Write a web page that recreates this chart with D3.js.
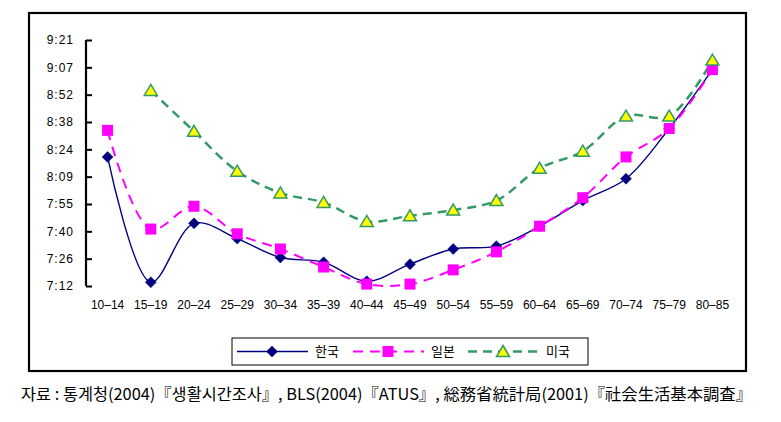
<!DOCTYPE html>
<html>
<head>
<meta charset="utf-8">
<script src="https://cdn.jsdelivr.net/npm/d3@7"></script>
<style>
  html, body { margin: 0; padding: 0; background: #fff; }
  svg { display: block; }
</style>
</head>
<body>
<svg id="chart" width="781" height="422"></svg>
<script>
// ---- data (minutes since midnight of sleep time) ----
const categories = ["10–14","15–19","20–24","25–29","30–34","35–39","40–44","45–49","50–54","55–59","60–64","65–69","70–74","75–79","80–85"];
const korea = [500, 434, 465, 457, 447, 444.5, 434.5, 443.5, 451.5, 453, 463.5, 477, 488.5, 515, 546];
const japan = [514, 462, 474, 459.5, 451.5, 442, 433, 433, 440.5, 450, 463.5, 478.5, 500, 515, 546];
const usa   = [null, 535, 513.5, 492.5, 481, 476, 466, 469, 472, 477, 494, 503, 521.5, 521.5, 551];
const seriesNames = ["한국", "일본", "미국"];
const yTickValues = [432, 446.4, 460.8, 475.2, 489.6, 504, 518.4, 532.8, 547.2, 561.6];
const sourceText = "자료 : 통계청(2004)『생활시간조사』, BLS(2004)『ATUS』, 総務省統計局(2001)『社会生活基本調査』";

const svg = d3.select("#chart");

// outer frame
svg.append("rect").attr("x", 29).attr("y", 13).attr("width", 717).attr("height", 358)
  .attr("fill", "none").attr("stroke", "#000").attr("stroke-width", 2.2);

const x = d3.scaleBand().domain(categories).range([86, 734]);
const cx = c => x(c) + x.bandwidth() / 2;
const y = d3.scaleLinear().domain([432, 561.6]).range([286, 40]);

const fmt = m => { const t = Math.floor(m + 1e-6); return Math.floor(t / 60) + ":" + String(t % 60).padStart(2, "0"); };

// y axis
const yAxis = d3.axisLeft(y).tickValues(yTickValues).tickFormat(fmt).tickSize(-6).tickPadding(12);
const gy = svg.append("g").attr("transform", "translate(86,0)").call(yAxis);
gy.select(".domain").attr("stroke", "#000").attr("stroke-width", 2.2).attr("d", "M0,40V286");
gy.selectAll(".tick line").attr("stroke", "#000").attr("stroke-width", 2);
gy.selectAll(".tick text").attr("font-family", "Liberation Sans, Arial, sans-serif")
  .attr("font-size", 12).attr("fill", "#000").attr("letter-spacing", 1);

// x axis labels (no axis line)
const xAxis = d3.axisBottom(x).tickSize(0).tickPadding(0);
const gx = svg.append("g").attr("transform", "translate(0,300)").call(xAxis);
gx.select(".domain").remove();
gx.selectAll(".tick text").attr("font-family", "Liberation Sans, Arial, sans-serif")
  .attr("font-size", 12).attr("fill", "#000").attr("dy", "0.71em");

const curve = d3.curveCatmullRom.alpha(0.5);
const line = d3.line().defined(d => d.v != null).x(d => cx(d.c)).y(d => y(d.v)).curve(curve);
const toPts = arr => categories.map((c, i) => ({ c, v: arr[i] }));

const styles = [
  { data: korea, color: "#000080", width: 1.4, dash: null, marker: "diamond" },
  { data: japan, color: "#FF00FF", width: 2, dash: "10,7", marker: "square" },
  { data: usa,   color: "#339966", width: 2.5, dash: "9,6", marker: "triangle" }
];

styles.forEach(s => {
  svg.append("path").datum(toPts(s.data)).attr("d", line)
    .attr("fill", "none").attr("stroke", s.color).attr("stroke-width", s.width)
    .attr("stroke-dasharray", s.dash);
});

function drawMarker(g, type, px, py) {
  if (type === "diamond") {
    g.append("path").attr("d", `M${px},${py-5.5}L${px+5.5},${py}L${px},${py+5.5}L${px-5.5},${py}Z`)
      .attr("fill", "#000080").attr("stroke", "#000080").attr("stroke-width", 0.5);
  } else if (type === "square") {
    g.append("rect").attr("x", px - 5.5).attr("y", py - 5.5).attr("width", 11).attr("height", 11)
      .attr("fill", "#FF00FF");
  } else {
    g.append("path").attr("d", `M${px},${py-6}L${px+6.5},${py+5}L${px-6.5},${py+5}Z`)
      .attr("fill", "#FFFF00").attr("stroke", "#339966").attr("stroke-width", 1.5);
  }
}

styles.forEach(s => {
  const g = svg.append("g");
  toPts(s.data).filter(d => d.v != null).forEach(d => drawMarker(g, s.marker, cx(d.c), y(d.v)));
});

// legend
const lg = svg.append("g");
lg.append("rect").attr("x", 232).attr("y", 338).attr("width", 356).attr("height", 27)
  .attr("fill", "#fff").attr("stroke", "#000").attr("stroke-width", 1);
const legendX = [237, 353, 468];
styles.forEach((s, i) => {
  const x0 = legendX[i], ly = 351.5;
  lg.append("line").attr("x1", x0).attr("x2", x0 + 71).attr("y1", ly).attr("y2", ly)
    .attr("stroke", s.color).attr("stroke-width", s.width).attr("stroke-dasharray", s.dash);
  drawMarker(lg, s.marker, x0 + 35, ly);
  lg.append("text").attr("x", x0 + 78).attr("y", ly).attr("dy", "0.36em")
    .attr("font-family", "Noto Sans CJK KR, sans-serif").attr("font-size", 13).attr("fill", "#000")
    .text(seriesNames[i]);
});

// source
svg.append("text").attr("x", 21).attr("y", 400)
  .attr("font-family", "Noto Sans CJK KR, sans-serif").attr("font-size", 16).attr("fill", "#000")
  .attr("textLength", 731).attr("lengthAdjust", "spacingAndGlyphs")
  .text(sourceText);
</script>
</body>
</html>
